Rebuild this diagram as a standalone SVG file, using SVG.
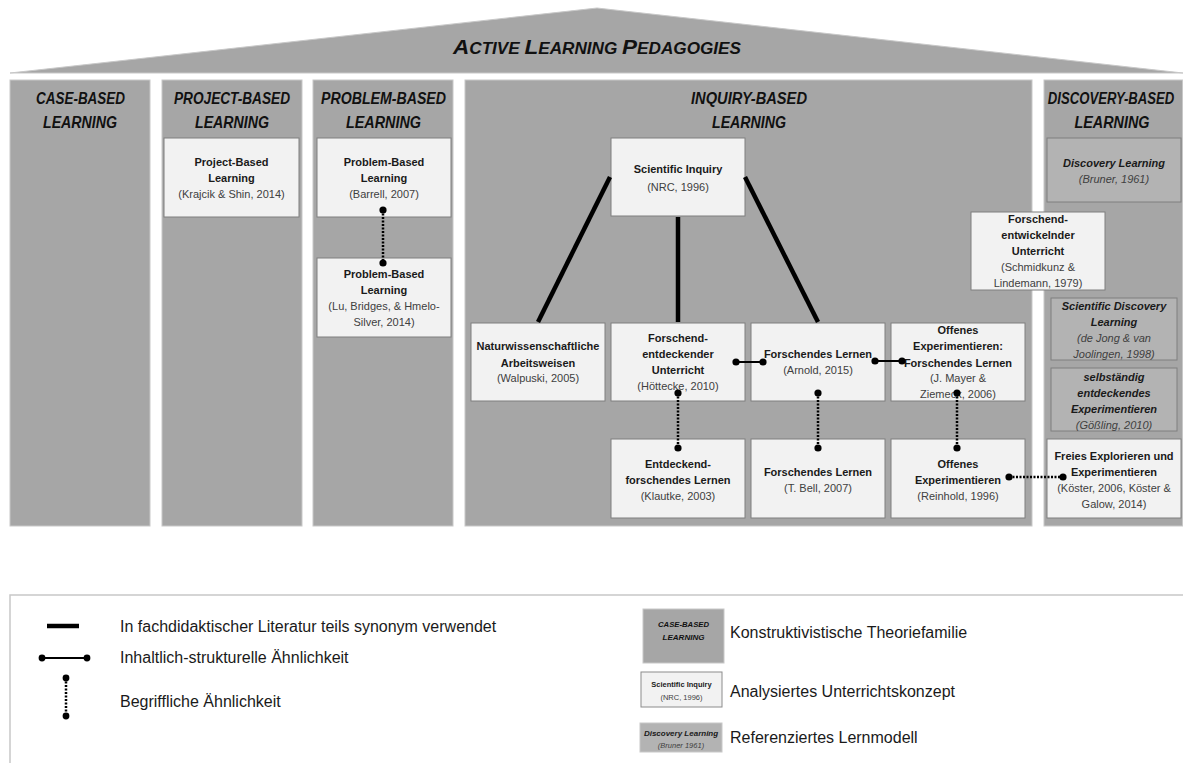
<svg xmlns="http://www.w3.org/2000/svg" width="1183" height="763" viewBox="0 0 1183 763">
<style>
.col{fill:#a6a6a6;stroke:#c8c8c8;stroke-width:1}
.hd{font-family:"Liberation Sans",Arial,sans-serif;font-weight:bold;font-style:italic;font-size:16px;fill:#111;text-anchor:middle}
.nd{fill:#f2f2f2;stroke:#7f7f7f;stroke-width:1}
.ref{fill:#b3b3b3;stroke:#7f7f7f;stroke-width:1}
.b{font-family:"Liberation Sans",Arial,sans-serif;font-weight:bold;font-size:11px;fill:#1a1a1a;text-anchor:middle}
.c{font-family:"Liberation Sans",Arial,sans-serif;font-size:11px;fill:#404040;text-anchor:middle}
.bi{font-family:"Liberation Sans",Arial,sans-serif;font-weight:bold;font-style:italic;font-size:11px;fill:#1a1a1a;text-anchor:middle}
.ci{font-family:"Liberation Sans",Arial,sans-serif;font-style:italic;font-size:11px;fill:#404040;text-anchor:middle}
.thick{stroke:#000;stroke-width:4.5;fill:none}
.solid{stroke:#000;stroke-width:2;fill:none}
.dot{stroke:#000;stroke-width:2.5;stroke-dasharray:2 1.5;fill:none}
.lg{font-family:"Liberation Sans",Arial,sans-serif;font-size:16px;fill:#1a1a1a}
</style>
<rect width="1183" height="763" fill="#fff"/>

<g id="roof">
<polygon points="10,73 597,8 1183,73" fill="#a6a6a6" stroke="#c8c8c8" stroke-width="1"/>
<text x="597" y="54" font-family="Liberation Sans,Arial,sans-serif" font-weight="bold" font-style="italic" fill="#111" text-anchor="middle" textLength="288" lengthAdjust="spacingAndGlyphs"><tspan font-size="21">A</tspan><tspan font-size="16">CTIVE </tspan><tspan font-size="21">L</tspan><tspan font-size="16">EARNING </tspan><tspan font-size="21">P</tspan><tspan font-size="16">EDAGOGIES</tspan></text>
</g>

<g id="col-case">
<rect class="col" x="10" y="80" width="140" height="446"/>
<text class="hd" x="80.5" y="104" textLength="89" lengthAdjust="spacingAndGlyphs">CASE-BASED</text>
<text class="hd" x="80" y="128" textLength="74" lengthAdjust="spacingAndGlyphs">LEARNING</text>
</g>
<g id="col-project">
<rect class="col" x="162" y="80" width="140" height="446"/>
<text class="hd" x="232" y="104" textLength="116" lengthAdjust="spacingAndGlyphs">PROJECT-BASED</text>
<text class="hd" x="232" y="128" textLength="74" lengthAdjust="spacingAndGlyphs">LEARNING</text>
</g>
<g id="col-problem">
<rect class="col" x="313" y="80" width="140" height="446"/>
<text class="hd" x="383.5" y="104" textLength="125" lengthAdjust="spacingAndGlyphs">PROBLEM-BASED</text>
<text class="hd" x="383.5" y="128" textLength="75" lengthAdjust="spacingAndGlyphs">LEARNING</text>
</g>
<g id="col-inquiry">
<rect class="col" x="465" y="80" width="567" height="446"/>
<text class="hd" x="749" y="104" textLength="116" lengthAdjust="spacingAndGlyphs">INQUIRY-BASED</text>
<text class="hd" x="749" y="128" textLength="74" lengthAdjust="spacingAndGlyphs">LEARNING</text>
</g>
<g id="col-discovery">
<rect class="col" x="1044" y="80" width="138.5" height="446"/>
<text class="hd" transform="translate(1111,104) scale(0.82,1)" x="0" y="0">DISCOVERY-BASED</text>
<text class="hd" x="1112" y="128" textLength="75" lengthAdjust="spacingAndGlyphs">LEARNING</text>
</g>

<g id="n-project">
<rect class="nd" x="164" y="138" width="135" height="79"/>
<text class="b" x="231.5" y="166">Project-Based</text>
<text class="b" x="231.5" y="182">Learning</text>
<text class="c" x="231.5" y="198">(Krajcik &amp; Shin, 2014)</text>
</g>
<g id="n-problem1">
<rect class="nd" x="317" y="138" width="134" height="79"/>
<text class="b" x="384" y="166">Problem-Based</text>
<text class="b" x="384" y="182">Learning</text>
<text class="c" x="384" y="198">(Barrell, 2007)</text>
</g>
<g id="n-problem2">
<rect class="nd" x="317" y="258" width="134" height="79"/>
<text class="b" x="384" y="278">Problem-Based</text>
<text class="b" x="384" y="294">Learning</text>
<text class="c" x="384" y="310">(Lu, Bridges, &amp; Hmelo-</text>
<text class="c" x="384" y="326">Silver, 2014)</text>
</g>
<g id="n-sci-inquiry">
<rect class="nd" x="611" y="138" width="134" height="78"/>
<text class="b" x="678" y="173">Scientific Inquiry</text>
<text class="c" x="678" y="191">(NRC, 1996)</text>
</g>
<g id="n-naturwiss">
<rect class="nd" x="471" y="323" width="134" height="78"/>
<text class="b" x="538" y="350">Naturwissenschaftliche</text>
<text class="b" x="538" y="367">Arbeitsweisen</text>
<text class="c" x="538" y="382">(Walpuski, 2005)</text>
</g>
<g id="n-forschend-entd">
<rect class="nd" x="611" y="323" width="134" height="78"/>
<text class="b" x="678" y="342">Forschend-</text>
<text class="b" x="678" y="358">entdeckender</text>
<text class="b" x="678" y="374">Unterricht</text>
<text class="c" x="678" y="390">(Höttecke, 2010)</text>
</g>
<g id="n-arnold">
<rect class="nd" x="751" y="323" width="134" height="78"/>
<text class="b" x="818" y="358">Forschendes Lernen</text>
<text class="c" x="818" y="374">(Arnold, 2015)</text>
</g>
<g id="n-mayer">
<rect class="nd" x="891" y="323" width="134" height="78"/>
<text class="b" x="958" y="334">Offenes</text>
<text class="b" x="958" y="350">Experimentieren:</text>
<text class="b" x="958" y="367">Forschendes Lernen</text>
<text class="c" x="958" y="382">(J. Mayer &amp;</text>
<text class="c" x="958" y="398">Ziemeck, 2006)</text>
</g>
<g id="n-klautke">
<rect class="nd" x="611" y="439" width="134" height="79"/>
<text class="b" x="678" y="468">Entdeckend-</text>
<text class="b" x="678" y="484">forschendes Lernen</text>
<text class="c" x="678" y="500">(Klautke, 2003)</text>
</g>
<g id="n-bell">
<rect class="nd" x="751" y="439" width="134" height="79"/>
<text class="b" x="818" y="476">Forschendes Lernen</text>
<text class="c" x="818" y="492">(T. Bell, 2007)</text>
</g>
<g id="n-reinhold">
<rect class="nd" x="891" y="439" width="134" height="79"/>
<text class="b" x="958" y="468">Offenes</text>
<text class="b" x="958" y="484">Experimentieren</text>
<text class="c" x="958" y="500">(Reinhold, 1996)</text>
</g>
<g id="n-bruner">
<rect class="ref" x="1047" y="138" width="134" height="64"/>
<text class="bi" x="1114" y="167">Discovery Learning</text>
<text class="ci" x="1114" y="183">(Bruner, 1961)</text>
</g>
<g id="n-schmidkunz">
<rect class="nd" x="971" y="212" width="134" height="78"/>
<text class="b" x="1038" y="223">Forschend-</text>
<text class="b" x="1038" y="239">entwickelnder</text>
<text class="b" x="1038" y="255">Unterricht</text>
<text class="c" x="1038" y="271">(Schmidkunz &amp;</text>
<text class="c" x="1038" y="287">Lindemann, 1979)</text>
</g>
<g id="n-dejong">
<rect class="ref" x="1051" y="298" width="126" height="62"/>
<text class="bi" x="1114" y="310">Scientific Discovery</text>
<text class="bi" x="1114" y="326">Learning</text>
<text class="ci" x="1114" y="342">(de Jong &amp; van</text>
<text class="ci" x="1114" y="358">Joolingen, 1998)</text>
</g>
<g id="n-goessling">
<rect class="ref" x="1051" y="368" width="126" height="63"/>
<text class="bi" x="1114" y="381">selbständig</text>
<text class="bi" x="1114" y="397">entdeckendes</text>
<text class="bi" x="1114" y="413">Experimentieren</text>
<text class="ci" x="1114" y="429">(Gößling, 2010)</text>
</g>
<g id="n-koester">
<rect class="nd" x="1047" y="439" width="134" height="79"/>
<text class="b" x="1114" y="460">Freies Explorieren und</text>
<text class="b" x="1114" y="476">Experimentieren</text>
<text class="c" x="1114" y="492">(Köster, 2006, Köster &amp;</text>
<text class="c" x="1114" y="508">Galow, 2014)</text>
</g>

<g id="connectors" fill="#000">
<line class="thick" x1="610" y1="177" x2="538" y2="322"/>
<line class="thick" x1="678" y1="217" x2="678" y2="322"/>
<line class="thick" x1="745" y1="177" x2="818" y2="322"/>
<line class="solid" x1="736" y1="362" x2="763" y2="362"/>
<circle cx="736" cy="362" r="3.6"/><circle cx="763" cy="362" r="3.6"/>
<line class="solid" x1="875" y1="361" x2="902" y2="361"/>
<circle cx="875" cy="361" r="3.6"/><circle cx="902" cy="361" r="3.6"/>
<line class="dot" x1="383" y1="210" x2="383" y2="263"/>
<circle cx="383" cy="210" r="3.6"/><circle cx="383" cy="263" r="3.6"/>
<line class="dot" x1="678" y1="393" x2="678" y2="448"/>
<circle cx="678" cy="393" r="3.6"/><circle cx="678" cy="448" r="3.6"/>
<line class="dot" x1="818" y1="393" x2="818" y2="448"/>
<circle cx="818" cy="393" r="3.6"/><circle cx="818" cy="448" r="3.6"/>
<line class="dot" x1="957" y1="393" x2="957" y2="448"/>
<circle cx="957" cy="393" r="3.6"/><circle cx="957" cy="448" r="3.6"/>
<line class="dot" x1="1009" y1="477" x2="1063" y2="477"/>
<circle cx="1009" cy="477" r="3.6"/><circle cx="1063" cy="477" r="3.6"/>
</g>

<g id="legend">
<path d="M10,763 V595 H1183" fill="none" stroke="#c8c8c8" stroke-width="1.5"/>
<line class="thick" x1="47" y1="626" x2="79" y2="626"/>
<text class="lg" x="120" y="632">In fachdidaktischer Literatur teils synonym verwendet</text>
<line class="solid" x1="42" y1="658" x2="87" y2="658"/>
<circle cx="42" cy="658" r="3.4"/><circle cx="87" cy="658" r="3.4"/>
<text class="lg" x="120" y="663">Inhaltlich-strukturelle Ähnlichkeit</text>
<line class="dot" x1="66" y1="678" x2="66" y2="716"/>
<circle cx="66" cy="678" r="3.4"/><circle cx="66" cy="716" r="3.4"/>
<text class="lg" x="120" y="707">Begriffliche Ähnlichkeit</text>
<rect x="643" y="609" width="81" height="54" fill="#a6a6a6" stroke="#c8c8c8" stroke-width="1"/>
<text x="683.5" y="627" font-family="Liberation Sans,Arial,sans-serif" font-weight="bold" font-style="italic" font-size="8" fill="#111" text-anchor="middle" textLength="51" lengthAdjust="spacingAndGlyphs">CASE-BASED</text>
<text x="683.5" y="640" font-family="Liberation Sans,Arial,sans-serif" font-weight="bold" font-style="italic" font-size="8" fill="#111" text-anchor="middle" textLength="42" lengthAdjust="spacingAndGlyphs">LEARNING</text>
<rect x="641" y="672" width="81" height="35" fill="#f2f2f2" stroke="#8c8c8c" stroke-width="1"/>
<text x="681.5" y="687" font-family="Liberation Sans,Arial,sans-serif" font-weight="bold" font-size="7.5" fill="#1a1a1a" text-anchor="middle">Scientific Inquiry</text>
<text x="681.5" y="700" font-family="Liberation Sans,Arial,sans-serif" font-size="7.5" fill="#404040" text-anchor="middle">(NRC, 1996)</text>
<rect x="640" y="723" width="82" height="29" fill="#b3b3b3" stroke="#c8c8c8" stroke-width="1"/>
<text x="681" y="736" font-family="Liberation Sans,Arial,sans-serif" font-weight="bold" font-style="italic" font-size="8" fill="#1a1a1a" text-anchor="middle">Discovery Learning</text>
<text x="681" y="748" font-family="Liberation Sans,Arial,sans-serif" font-style="italic" font-size="7.5" fill="#404040" text-anchor="middle">(Bruner 1961)</text>
<text class="lg" x="730" y="638">Konstruktivistische  Theoriefamilie</text>
<text class="lg" x="730" y="697">Analysiertes Unterrichtskonzept</text>
<text class="lg" x="730" y="743">Referenziertes Lernmodell</text>
</g>
</svg>
